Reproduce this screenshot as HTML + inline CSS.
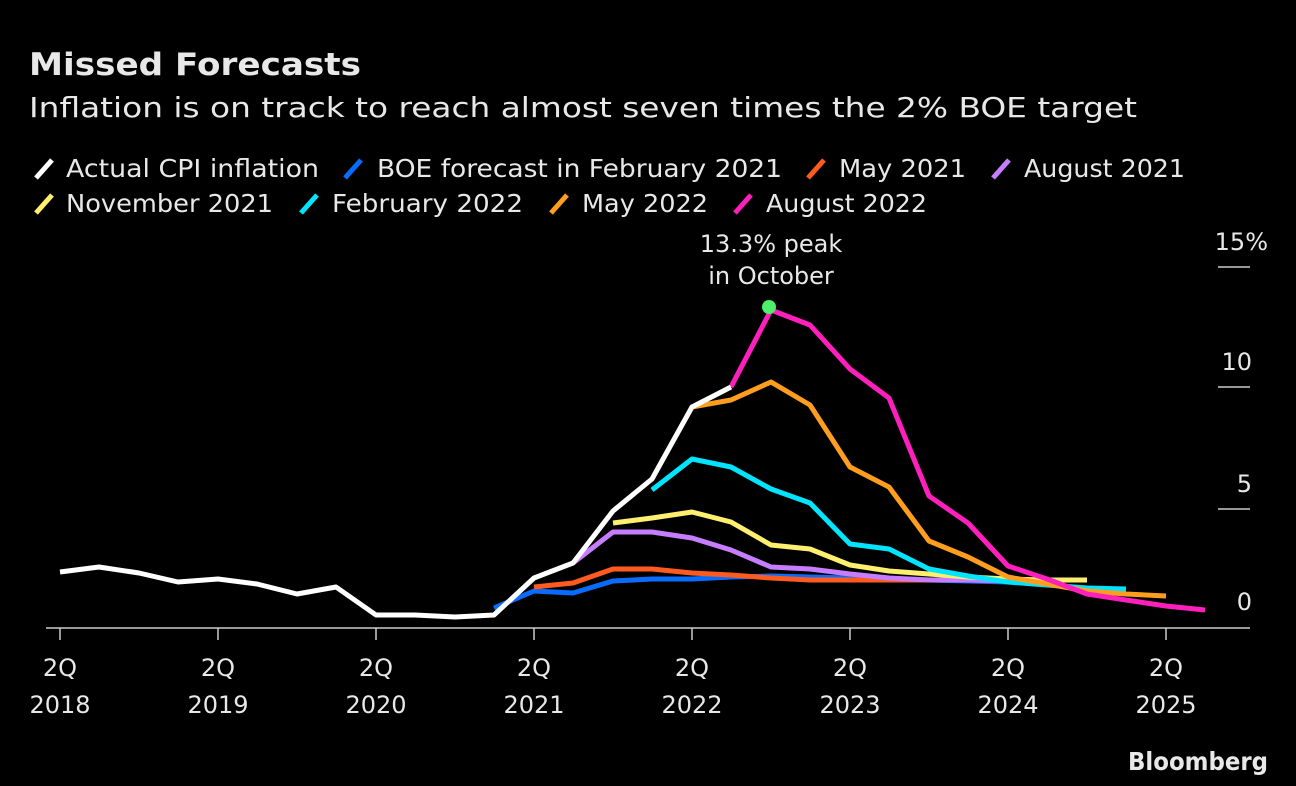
<!DOCTYPE html>
<html><head><meta charset="utf-8"><style>
html,body{margin:0;padding:0;background:#000;width:1296px;height:786px;overflow:hidden}
text{font-family:"DejaVu Sans","Liberation Sans",sans-serif;fill:#e8e8e8}
</style></head><body>
<svg width="1296" height="786" xmlns="http://www.w3.org/2000/svg">
<rect width="1296" height="786" fill="#000"/>
<text x="29" y="75" font-size="31" font-weight="bold" fill="#fff" textLength="332" lengthAdjust="spacingAndGlyphs">Missed Forecasts</text>
<text x="29" y="117" font-size="28" textLength="1108" lengthAdjust="spacingAndGlyphs">Inflation is on track to reach almost seven times the 2% BOE target</text>
<g font-size="25">
<line x1="36" y1="178" x2="52" y2="160" stroke="#fff" stroke-width="5"/><text x="66" y="177" textLength="253" lengthAdjust="spacingAndGlyphs">Actual CPI inflation</text>
<line x1="345" y1="178" x2="361" y2="160" stroke="#0a6cff" stroke-width="5"/><text x="377" y="177" textLength="405" lengthAdjust="spacingAndGlyphs">BOE forecast in February 2021</text>
<line x1="808" y1="178" x2="824" y2="160" stroke="#ff5a1f" stroke-width="5"/><text x="839" y="177" textLength="127" lengthAdjust="spacingAndGlyphs">May 2021</text>
<line x1="993" y1="178" x2="1009" y2="160" stroke="#c77dff" stroke-width="5"/><text x="1024" y="177" textLength="161" lengthAdjust="spacingAndGlyphs">August 2021</text>
<line x1="36" y1="213" x2="52" y2="195" stroke="#ffef6e" stroke-width="5"/><text x="66" y="212" textLength="207" lengthAdjust="spacingAndGlyphs">November 2021</text>
<line x1="301" y1="213" x2="317" y2="195" stroke="#00e5ff" stroke-width="5"/><text x="332" y="212" textLength="191" lengthAdjust="spacingAndGlyphs">February 2022</text>
<line x1="551" y1="213" x2="567" y2="195" stroke="#ff9d1f" stroke-width="5"/><text x="582" y="212" textLength="126" lengthAdjust="spacingAndGlyphs">May 2022</text>
<line x1="735" y1="213" x2="751" y2="195" stroke="#ff1fbd" stroke-width="5"/><text x="766" y="212" textLength="161" lengthAdjust="spacingAndGlyphs">August 2022</text>
</g>
<g stroke="#ccc" stroke-width="1.5">
<line x1="1218" y1="267" x2="1250" y2="267"/><line x1="1218" y1="387" x2="1250" y2="387"/><line x1="1218" y1="509" x2="1250" y2="509"/>
<line x1="46" y1="628" x2="1250" y2="628"/>
</g>
<g font-size="24" text-anchor="end">
<text x="1268" y="250">15%</text><text x="1252" y="370">10</text><text x="1252" y="492">5</text><text x="1252" y="610">0</text>
</g>
<g stroke="#ccc" stroke-width="1.5">
<line x1="60" y1="628" x2="60" y2="640"/><line x1="218" y1="628" x2="218" y2="640"/><line x1="376" y1="628" x2="376" y2="640"/><line x1="534" y1="628" x2="534" y2="640"/><line x1="692" y1="628" x2="692" y2="640"/><line x1="850" y1="628" x2="850" y2="640"/><line x1="1008" y1="628" x2="1008" y2="640"/><line x1="1166" y1="628" x2="1166" y2="640"/>
</g>
<g font-size="24" text-anchor="middle">
<text x="60" y="676">2Q</text><text x="60" y="713">2018</text>
<text x="218" y="676">2Q</text><text x="218" y="713">2019</text>
<text x="376" y="676">2Q</text><text x="376" y="713">2020</text>
<text x="534" y="676">2Q</text><text x="534" y="713">2021</text>
<text x="692" y="676">2Q</text><text x="692" y="713">2022</text>
<text x="850" y="676">2Q</text><text x="850" y="713">2023</text>
<text x="1008" y="676">2Q</text><text x="1008" y="713">2024</text>
<text x="1166" y="676">2Q</text><text x="1166" y="713">2025</text>
</g>
<g fill="none" stroke-width="5" stroke-linejoin="round">
<polyline stroke="#0a6cff" points="494,608 534,591 573,593 613,581 652,579 692,579 731,577 771,576 810,577 850,578 889,579 929,580 968,581 1008,582"/>
<polyline stroke="#ff5a1f" points="534,587 573,583 613,569 652,569 692,573 731,575 771,578 810,580 850,580 889,580 929,580 968,580 1008,580"/>
<polyline stroke="#c77dff" points="573,563 613,532 652,532 692,538 731,550 771,567 810,569 850,574 889,578 929,580 968,580 1008,581"/>
<polyline stroke="#ffef6e" points="613,523 652,518 692,512 731,522 771,545 810,549 850,565 889,571 929,574 968,577 1008,579 1047,580 1087,580"/>
<polyline stroke="#00e5ff" points="652,490 692,459 731,467 771,489 810,503 850,544 889,549 929,569 968,576 1008,582 1047,585 1087,588 1126,589"/>
<polyline stroke="#ff9d1f" points="692,407 731,400 771,382 810,405 850,467 889,487 929,541 968,557 1008,577 1047,584 1087,591 1126,594 1166,596"/>
<polyline stroke="#ff1fbd" points="731,387 771,310 810,325 850,369 889,398 929,496 968,523 1008,566 1047,579 1087,594 1126,600 1166,606 1205,610"/>
<polyline stroke="#fff" points="60,572 99,567 139,573 178,582 218,579 257,584 297,594 336,587 376,615 415,615 455,617 494,615 534,578 573,563 613,511 652,479 692,407 731,387"/>
</g>
<circle cx="769" cy="307" r="7" fill="#4cf06a"/>
<g font-size="24" text-anchor="middle"><text x="771" y="252">13.3% peak</text><text x="771" y="284">in October</text></g>
<text x="1268" y="770" font-size="25" font-weight="bold" text-anchor="end" fill="#ddd" textLength="140" lengthAdjust="spacingAndGlyphs">Bloomberg</text>
</svg>
</body></html>
